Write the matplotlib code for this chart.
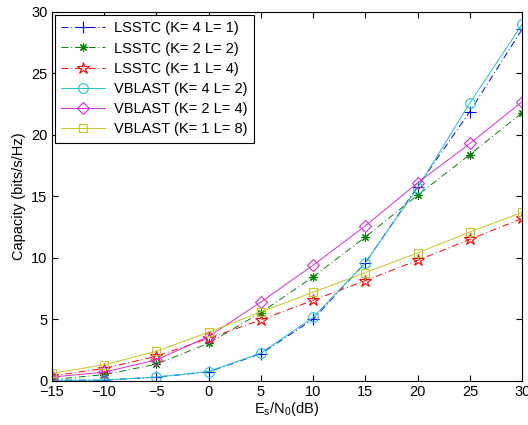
import matplotlib as mpl
mpl.use('AGG')
import matplotlib.pyplot as plt
import numpy as np

mpl.rc('font', **{'family': 'sans-serif', 'sans-serif': ['Liberation Sans'], 'size': 10.5})
mpl.rc('mathtext', fontset='custom', rm='Liberation Sans', it='Liberation Sans')
mpl.rc('axes', linewidth=0.8)
mpl.rc('lines', linewidth=0.7, markeredgewidth=0.8)

snr = [-15, -10, -5, 0, 5, 10, 15, 20, 25, 30]

lsstc_4_1 = [0.05, 0.05, 0.3, 0.73, 2.2, 5.0, 9.6, 15.8, 21.9, 28.6]
lsstc_2_2 = [0.1, 0.5, 1.35, 3.05, 5.55, 8.45, 11.7, 15.1, 18.4, 21.8]
lsstc_1_4 = [0.4, 1.0, 2.0, 3.45, 4.95, 6.55, 8.15, 9.8, 11.5, 13.2]
vblast_4_2 = [0.05, 0.05, 0.3, 0.75, 2.25, 5.15, 9.6, 15.7, 22.6, 29.0]
vblast_2_4 = [0.3, 0.7, 1.7, 3.6, 6.4, 9.4, 12.6, 16.1, 19.3, 22.7]
vblast_1_8 = [0.6, 1.3, 2.4, 3.95, 5.6, 7.2, 8.8, 10.4, 12.1, 13.7]

labels = ['LSSTC (K= 4 L= 1)', 'LSSTC (K= 2 L= 2)', 'LSSTC (K= 1 L= 4)',
          'VBLAST (K= 4 L= 2)', 'VBLAST (K= 2 L= 4)', 'VBLAST (K= 1 L= 8)']

fig = plt.figure(figsize=(5.28, 4.25), dpi=100)
ax = fig.add_axes([0.098, 0.104, 0.891, 0.868])

dd = (0, (7, 3, 1, 3))
ax.plot(snr, lsstc_4_1, ls=dd, color='#0000ff', marker='+', ms=8, label=labels[0])
ax.plot(snr, lsstc_2_2, ls=dd, color='#008000', marker=(8, 2, 0), ms=6, label=labels[1])
ax.plot(snr, lsstc_1_4, ls=dd, color='#ff0000', marker='*', ms=9, mfc='none', label=labels[2])
ax.plot(snr, vblast_4_2, '-', color='#20c4cc', marker='o', ms=7, mfc='none', label=labels[3])
ax.plot(snr, vblast_2_4, '-', color='#d030d8', marker='D', ms=6, mfc='none', label=labels[4])
ax.plot(snr, vblast_1_8, '-', color='#c8c424', marker='s', ms=6, mfc='none', label=labels[5])

ax.set_xlim(-15, 30)
ax.set_ylim(0, 30)
ax.set_xticks(np.arange(-15, 31, 5))
ax.set_yticks(np.arange(0, 31, 5))
ax.tick_params(direction='in', top=True, right=True, length=4, pad=3)
ax.set_xlabel(r'E$_\mathregular{s}$/N$_\mathregular{0}$(dB)', labelpad=1)
ax.set_ylabel('Capacity (bits/s/Hz)', labelpad=4)

leg = ax.legend(loc='upper left', fancybox=False, edgecolor='k', framealpha=1,
                borderaxespad=0.2, handlelength=3.0, labelspacing=0.42,
                borderpad=0.45, handletextpad=0.6)
leg.get_frame().set_linewidth(0.8)

plt.savefig('out.png', dpi=100)
